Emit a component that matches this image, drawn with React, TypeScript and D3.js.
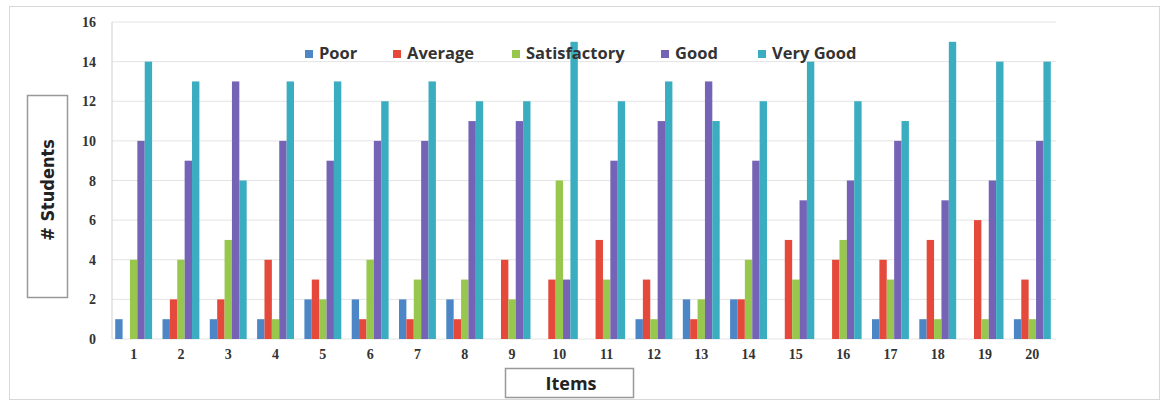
import React from "react";
import * as d3 from "d3";

const items = d3.range(1, 21).map(String);
const series = ["Poor", "Average", "Satisfactory", "Good", "Very Good"];
const colors = ["#4d86c6", "#e5493b", "#98c74e", "#7564b6", "#3aadc0"];

const poor = [1, 1, 1, 1, 2, 2, 2, 2, 0, 0, 0, 1, 2, 2, 0, 0, 1, 1, 0, 1];
const average = [0, 2, 2, 4, 3, 1, 1, 1, 4, 3, 5, 3, 1, 2, 5, 4, 4, 5, 6, 3];
const satisfactory = [4, 4, 5, 1, 2, 4, 3, 3, 2, 8, 3, 1, 2, 4, 3, 5, 3, 1, 1, 1];
const good = [10, 9, 13, 10, 9, 10, 10, 11, 11, 3, 9, 11, 13, 9, 7, 8, 10, 7, 8, 10];
const veryGood = [14, 13, 8, 13, 13, 12, 13, 12, 12, 15, 12, 13, 11, 12, 14, 12, 11, 15, 14, 14];
const yTicks = [0, 2, 4, 6, 8, 10, 12, 14, 16];

const values = [poor, average, satisfactory, good, veryGood];

const width = 1163;
const height = 403;

export default function App() {
  const x = d3.scaleBand().domain(items).range([110, 1056]).paddingInner(0.22).paddingOuter(0.11);
  const xs = d3.scaleBand().domain(series).range([0, x.bandwidth()]);
  const y = d3.scaleLinear().domain([0, 16]).range([339, 22]);

  // legend text starts
  const legendX = [319, 407, 526, 675, 772];

  return (
    <svg
      width={width}
      height={height}
      style={{ position: "absolute", left: 0, top: 0, background: "#fff" }}
    >
      {/* outer frame */}
      <rect x={9.5} y={6.5} width={1150} height={393} fill="none" stroke="#d8d8d8" />

      {/* grid */}
      {yTicks.map((t) => (
        <line key={t} x1={112} x2={1056} y1={y(t)} y2={y(t)} stroke="#e4e4e4" />
      ))}
      <line x1={112} x2={112} y1={y(16)} y2={y(0)} stroke="#d0d0d0" />

      {/* bars */}
      {series.map((s, si) =>
        items.map((it, i) =>
          values[si][i] > 0 ? (
            <rect
              key={s + it}
              x={(x(it) as number) + (xs(s) as number)}
              y={y(values[si][i])}
              width={xs.bandwidth()}
              height={y(0) - y(values[si][i])}
              fill={colors[si]}
            />
          ) : null
        )
      )}

      {/* y tick labels */}
      {yTicks.map((t) => (
        <text
          key={t}
          x={96}
          y={y(t) + 5}
          textAnchor="end"
          fontFamily="'Liberation Serif', serif"
          fontWeight="bold"
          fontSize={14}
          fill="#333"
        >
          {t}
        </text>
      ))}

      {/* x tick labels */}
      {items.map((it) => (
        <text
          key={it}
          x={(x(it) as number) + x.bandwidth() / 2}
          y={359}
          textAnchor="middle"
          fontFamily="'Liberation Serif', serif"
          fontWeight="bold"
          fontSize={14}
          fill="#333"
        >
          {it}
        </text>
      ))}

      {/* legend */}
      {series.map((s, i) => (
        <g key={s} transform={`translate(${legendX[i]},59)`}>
          <rect x={-14} y={-9} width={8} height={8} fill={colors[i]} />
          <text
            x={0}
            y={0}
            fontFamily="'Open Sans', sans-serif"
            fontWeight="bold"
            fontSize={16.5}
            fill="#333"
          >
            {s}
          </text>
        </g>
      ))}

      {/* y axis title */}
      <rect x={27.5} y={95.5} width={40} height={202} fill="#fff" stroke="#999" strokeWidth={1.5} />
      <text
        transform="translate(54,190) rotate(-90)"
        textAnchor="middle"
        fontFamily="'Liberation Sans Narrow', 'DejaVu Sans Condensed', sans-serif"
        fontWeight="bold"
        fontSize={18}
        fill="#222"
      >
        # Students
      </text>

      {/* x axis title */}
      <rect x={505.5} y={368.5} width={128} height={29} fill="#fff" stroke="#999" strokeWidth={1.5} />
      <text
        x={571}
        y={390}
        textAnchor="middle"
        fontFamily="'Open Sans', sans-serif"
        fontWeight="bold"
        fontSize={18}
        fill="#222"
      >
        Items
      </text>
    </svg>
  );
}
